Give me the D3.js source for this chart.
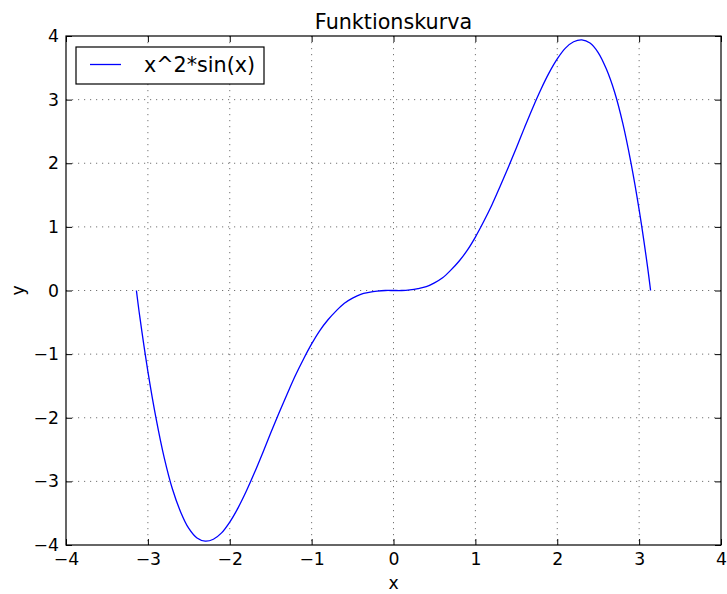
<!DOCTYPE html>
<html>
<head>
<meta charset="utf-8">
<script src="https://cdn.jsdelivr.net/npm/d3@7"></script>
<style>
  body { margin: 0; background: #fff; }
  text { font-family: 'DejaVu Sans', sans-serif; fill: #000; }
</style>
</head>
<body>
<div id="chart"></div>
<script>
// Values
const xValues = [-3.14, -3.1, -3.0, -2.9, -2.8, -2.7, -2.6, -2.5, -2.4, -2.3, -2.2, -2.1, -2.0,
    -1.9, -1.8, -1.7, -1.6, -1.5, -1.4, -1.3, -1.2, -1.1, -1.0, -0.9, -0.8, -0.7, -0.6, -0.5,
    -0.4, -0.3, -0.2, -0.1, 0.0, 0.1, 0.2, 0.3, 0.4, 0.5, 0.6, 0.7, 0.8, 0.9, 1.0, 1.1, 1.2,
    1.3, 1.4, 1.5, 1.6, 1.7, 1.8, 1.9, 2.0, 2.1, 2.2, 2.3, 2.4, 2.5, 2.6, 2.7, 2.8, 2.9, 3.0,
    3.1, 3.14];
const yValues = [0.0, -0.40, -1.27, -2.01, -2.63, -3.12, -3.48, -3.74, -3.89, -3.94, -3.91, -3.81, -3.64,
    -3.42, -3.16, -2.87, -2.56, -2.24, -1.93, -1.63, -1.34, -1.08, -0.84, -0.63, -0.46, -0.32, -0.20, -0.12,
    -0.06, -0.03, -0.01, 0.0, 0.0, 0.0, 0.01, 0.03, 0.06, 0.12, 0.20, 0.32, 0.46, 0.63, 0.84, 1.08, 1.34,
    1.63, 1.93, 2.24, 2.56, 2.87, 3.16, 3.42, 3.64, 3.81, 3.91, 3.94, 3.89, 3.74, 3.48, 3.12, 2.63, 2.01, 1.27,
    0.40, 0.0];
const xTicks = [-4, -3, -2, -1, 0, 1, 2, 3, 4];
const yTicks = [-4, -3, -2, -1, 0, 1, 2, 3, 4];
const seriesName = 'x^2*sin(x)';

const W = 727, H = 594;
const margin = { top: 36, right: 6, bottom: 49, left: 66 };
const width = W - margin.left - margin.right;
const height = H - margin.top - margin.bottom;
const fontSize = 17.25;
const largeSize = 20.7;
const fmt = d => d < 0 ? '\u2212' + Math.abs(d) : String(d);

const svg = d3.select('#chart').append('svg')
    .attr('width', W)
    .attr('height', H);
const g = svg.append('g')
    .attr('transform', 'translate(' + margin.left + ',' + margin.top + ')');

const xScale = d3.scaleLinear().domain([-4, 4]).range([0, width]);
const yScale = d3.scaleLinear().domain([-4, 4]).range([height, 0]);

// Grid
g.append('g').selectAll('line')
    .data(xTicks.slice(1, -1))
    .enter().append('line')
    .attr('x1', d => xScale(d)).attr('x2', d => xScale(d))
    .attr('y1', 0).attr('y2', height)
    .attr('stroke', '#000').attr('stroke-opacity', 0.55)
    .attr('stroke-width', 1).attr('stroke-dasharray', '1.2,4.8');
g.append('g').selectAll('line')
    .data(yTicks.slice(1, -1))
    .enter().append('line')
    .attr('y1', d => yScale(d)).attr('y2', d => yScale(d))
    .attr('x1', 0).attr('x2', width)
    .attr('stroke', '#000').attr('stroke-opacity', 0.55)
    .attr('stroke-width', 1).attr('stroke-dasharray', '1.2,4.8');

// Axes (ticks pointing inwards, on all sides)
const styleAxis = sel => {
    sel.select('.domain').remove();
    sel.selectAll('.tick line').attr('stroke', '#000');
    sel.selectAll('.tick text')
        .style('font-size', fontSize + 'px')
        .style('font-family', "'DejaVu Sans', sans-serif")
        .attr('fill', '#000');
};
g.append('g')
    .attr('transform', 'translate(0,' + height + ')')
    .call(d3.axisBottom(xScale).tickValues(xTicks).tickFormat(fmt).tickSizeInner(-6).tickSizeOuter(0).tickPadding(8))
    .call(styleAxis);
g.append('g')
    .call(d3.axisTop(xScale).tickValues(xTicks).tickFormat('').tickSizeInner(-6).tickSizeOuter(0))
    .call(styleAxis);
g.append('g')
    .call(d3.axisLeft(yScale).tickValues(yTicks).tickFormat(fmt).tickSizeInner(-6).tickSizeOuter(0).tickPadding(7))
    .call(styleAxis);
g.append('g')
    .attr('transform', 'translate(' + width + ',0)')
    .call(d3.axisRight(yScale).tickValues(yTicks).tickFormat('').tickSizeInner(-6).tickSizeOuter(0))
    .call(styleAxis);

// Curve
const points = xValues.map((x, i) => [x, yValues[i]]);
g.append('path')
    .datum(points)
    .attr('fill', 'none')
    .attr('stroke', '#0000ff')
    .attr('stroke-width', 1.3)
    .attr('d', d3.line()
        .x(d => xScale(d[0]))
        .y(d => yScale(d[1]))
        .curve(d3.curveCatmullRom));

// Frame
g.append('rect')
    .attr('width', width).attr('height', height)
    .attr('fill', 'none').attr('stroke', '#000').attr('stroke-width', 1.2);

// Legend
const legend = g.append('g').attr('transform', 'translate(10,11)');
legend.append('rect')
    .attr('width', 188).attr('height', 37)
    .attr('fill', '#fff').attr('stroke', '#000').attr('stroke-width', 1.2);
legend.append('line')
    .attr('x1', 14).attr('x2', 45).attr('y1', 17.5).attr('y2', 17.5)
    .attr('stroke', '#0000ff').attr('stroke-width', 1.3);
legend.append('text')
    .attr('x', 68).attr('y', 25)
    .style('font-size', largeSize + 'px')
    .text(seriesName);

// Title and axis labels
svg.append('text')
    .attr('x', margin.left + width / 2).attr('y', 28.5)
    .attr('text-anchor', 'middle')
    .style('font-size', largeSize + 'px')
    .text('Funktionskurva');
svg.append('text')
    .attr('x', margin.left + width / 2).attr('y', 589)
    .attr('text-anchor', 'middle')
    .style('font-size', fontSize + 'px')
    .text('x');
svg.append('text')
    .attr('transform', 'translate(24,' + (margin.top + height / 2) + ') rotate(-90)')
    .attr('text-anchor', 'middle')
    .style('font-size', fontSize + 'px')
    .text('y');
</script>
</body>
</html>
